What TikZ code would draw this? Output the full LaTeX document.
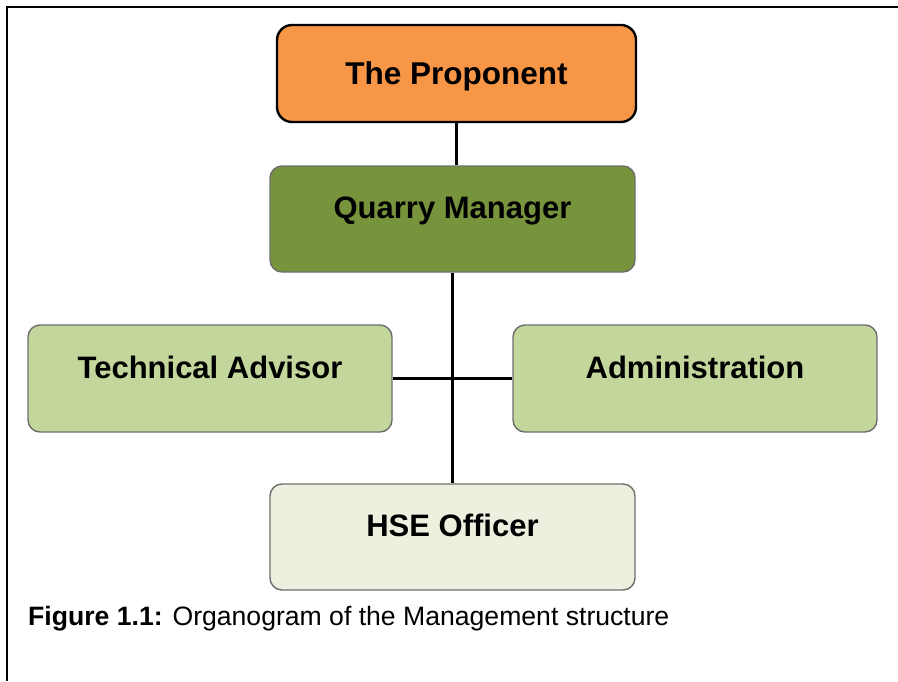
\documentclass[tikz,border=0pt]{standalone}
\usepackage{fontspec}
\setmainfont{Liberation Sans}
\definecolor{propfill}{HTML}{F79646}
\definecolor{mgrfill}{HTML}{77933C}
\definecolor{staffill}{HTML}{C3D69B}
\definecolor{hsefill}{HTML}{EBF1DE}
\definecolor{boxline}{HTML}{6E6E6E}

\begin{document}
\begin{tikzpicture}[x=1pt,y=-1pt,
  orgbox/.style={rectangle,rounded corners=12pt,draw=boxline,line width=1.4pt,
    minimum width=365pt,minimum height=106pt,inner sep=0pt,
    font=\fontsize{31}{36}\selectfont\bfseries,text height=22pt,text depth=23pt},
  topbox/.style={orgbox,draw=black,line width=2.4pt,rounded corners=15pt,
    minimum width=359pt,minimum height=97pt,text depth=0pt,
    font=\fontsize{31.5}{36}\selectfont\bfseries},
  orgline/.style={line width=3pt,black}]
\useasboundingbox (0,0) rectangle (898,681);
\draw[line width=1.8pt] (898,7) -- (7,7) -- (7,681);
\node[topbox,fill=propfill] (prop) at (456.5,73.5) {The Proponent};
\node[orgbox,fill=mgrfill] (qm) at (452.5,219) {Quarry Manager};
\node[orgbox,fill=staffill,minimum width=364pt,minimum height=107pt] (tech) at (210,378.5) {Technical Advisor};
\node[orgbox,fill=staffill,minimum width=364pt,minimum height=107pt] (admin) at (695,378.5) {Administration};
\node[orgbox,fill=hsefill] (hse) at (452.5,537) {HSE Officer};
\draw[orgline] (prop.south) -- (prop.south |- qm.north);
\draw[orgline] (qm.south) -- (hse.north);
\draw[orgline] (tech.east) -- (admin.west);
\node[anchor=base west,inner sep=0pt,font=\fontsize{26.6}{30}\selectfont] (cap) at (28,625)
  {\textbf{Figure 1.1:} Organogram of the Management structure};
\end{tikzpicture}
\end{document}
